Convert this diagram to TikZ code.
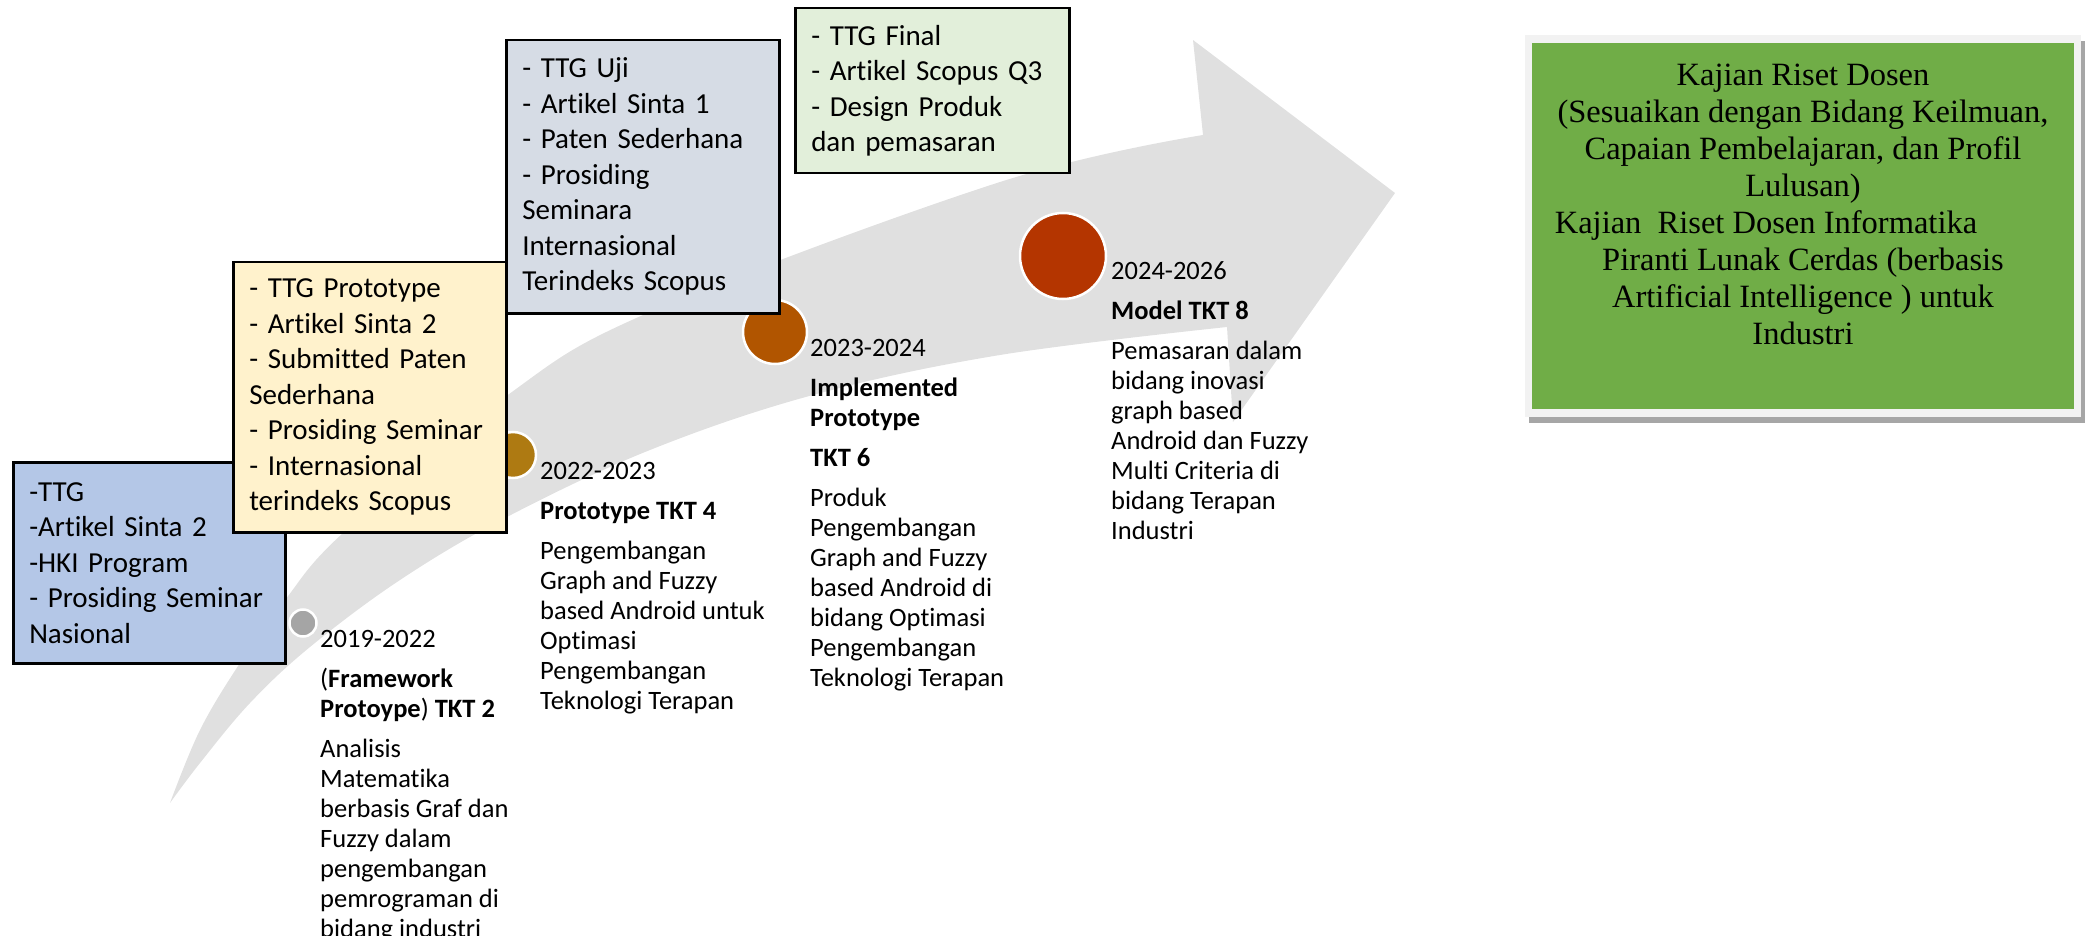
\documentclass[tikz,border=0pt]{standalone}
\usepackage{fontspec}
\setmainfont{Carlito}[Ligatures={TeX,NoCommon}]
\newfontfamily\kajianfont{Liberation Serif}
\usepackage{tikz}
\usepackage{xcolor}
\usetikzlibrary{positioning}
\definecolor{bandgray}{RGB}{224,224,224}
\definecolor{boxblue}{RGB}{180,199,231}
\definecolor{boxyellow}{RGB}{255,242,204}
\definecolor{boxslate}{RGB}{214,220,229}
\definecolor{boxmint}{RGB}{226,239,218}
\definecolor{kajiangreen}{RGB}{112,173,71}
\definecolor{stagegray}{RGB}{165,165,165}
\definecolor{stagegold}{RGB}{174,122,18}
\definecolor{stageamber}{RGB}{177,85,0}
\definecolor{stagerust}{RGB}{180,53,0}
\tikzstyle{outbox}=[rectangle, draw=black, line width=2.5pt, anchor=north west,
align=left, inner xsep=16pt, inner ysep=0pt,
execute at begin node={\hyphenpenalty=10000\relax},
font=\fontsize{29}{35.5}\selectfont]
\tikzstyle{stage}=[circle, draw=white, line width=2.5pt, inner sep=0pt]
\tikzstyle{lbl}=[anchor=north west, align=left, inner sep=0pt,
font=\fontsize{26.5}{30}\selectfont]

\begin{document}
\begin{tikzpicture}[x=1pt,y=-1pt]
\useasboundingbox (0,0) rectangle (2094,936);

% arrow
\fill[bandgray] plot[smooth, tension=0.6] coordinates {(170,803) (200,730) (240,663) (285,600) (343,533) (505,397) (650,312) (1000,182) (1203,135)}
 -- (1193,40) -- (1395,193) -- (1233,422)
 -- plot[smooth, tension=0.6] coordinates {(1227,327) (1000,355) (813,395) (650,450) (505,518) (400,580) (310,647) (250,703) (200,763) (170,803)} -- cycle;

\node[stage, fill=stagegray, minimum size=27pt] (s1) at (303,623) {};
\node[stage, fill=stagegold, minimum size=46pt] (s2) at (513,455) {};
\node[stage, fill=stageamber, minimum size=64pt] (s3) at (775,332) {};
\node[stage, fill=stagerust, minimum size=86pt] (s4) at (1063,256) {};

\node[outbox, fill=boxblue, text width=240pt, minimum height=201pt] (b1) at (12,461)
 {-TTG\\ -Artikel Sinta 2\\ -HKI Program\\ - Prosiding Seminar\\ Nasional};
\node[outbox, fill=boxyellow, text width=241pt, minimum height=270pt] (b2) at (232,261)
 {- TTG Prototype\\ - Artikel Sinta 2\\ - Submitted Paten\\ Sederhana\\ - Prosiding Seminar\\ - Internasional\\ terindeks Scopus};
\node[outbox, fill=boxslate, text width=241pt, minimum height=273pt] (b3) at (505,39)
 {- TTG Uji\\ - Artikel Sinta 1\\ - Paten Sederhana\\ - Prosiding\\ Seminara\\ Internasional\\ Terindeks Scopus};
\node[outbox, fill=boxmint, text width=242pt, minimum height=165pt] (b4) at (794,7)
 {- TTG Final\\ - Artikel Scopus Q3\\ - Design Produk\\ dan pemasaran};

\node[lbl] (t1) at (320,630) {2019-2022\\[10pt]
 (\textbf{Framework}\\ \textbf{Protoype}) \textbf{TKT 2}\\[10pt]
 Analisis\\ Matematika\\ berbasis Graf dan\\ Fuzzy dalam\\ pengembangan\\ pemrograman di\\ bidang industri};
\node[lbl] (t2) at (540,462) {2022-2023\\[10pt]
 \textbf{Prototype TKT 4}\\[10pt]
 Pengembangan\\ Graph and Fuzzy\\ based Android untuk\\ Optimasi\\ Pengembangan\\ Teknologi Terapan};
\node[lbl] (t3) at (810,339) {2023-2024\\[10pt]
 \textbf{Implemented}\\ \textbf{Prototype}\\[10pt]
 \textbf{TKT 6}\\[10pt]
 Produk\\ Pengembangan\\ Graph and Fuzzy\\ based Android di\\ bidang Optimasi\\ Pengembangan\\ Teknologi Terapan};
\node[lbl] (t4) at (1111,261) {2024-2026\\[10pt]
 \textbf{Model TKT 8}\\[10pt]
 Pemasaran dalam\\ bidang inovasi\\ graph based\\ Android dan Fuzzy\\ Multi Criteria di\\ bidang Terapan\\ Industri};

%%%%%%%%%%%%%%%%%%%%%%%%%%%

\fill[black!35] (1529,41) rectangle (2085,423);
\fill[black!5] (1525,35) rectangle (2081,417);
\node[fill=kajiangreen, anchor=north west, minimum width=542pt, minimum height=366pt, inner sep=0pt] (kajian) at (1532,43) {};
\node[anchor=north, align=center, inner sep=0pt, font=\kajianfont\fontsize{32.5}{37}\selectfont] (kajiantext) at (1803,64)
 {Kajian Riset Dosen\\ (Sesuaikan dengan Bidang Keilmuan,\\ Capaian Pembelajaran, dan Profil\\ Lulusan)\\
 Kajian\ \ Riset Dosen Informatika\hspace*{74pt}\null\\ Piranti Lunak Cerdas (berbasis\\ Artificial Intelligence ) untuk\\ Industri};

\end{tikzpicture}
\end{document}
